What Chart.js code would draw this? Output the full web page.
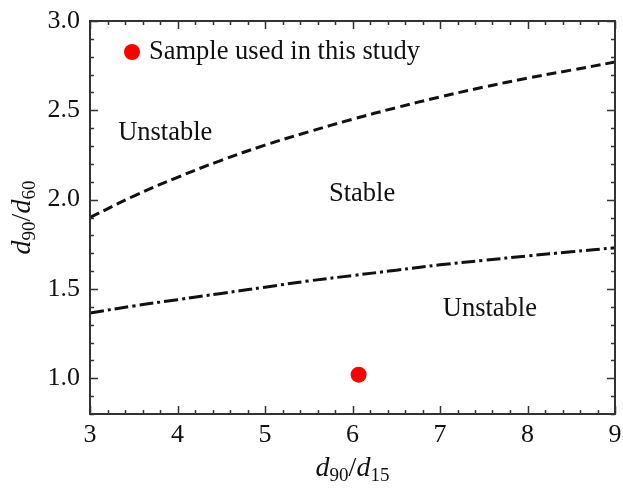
<!DOCTYPE html>
<html>
<head>
<meta charset="utf-8">
<script src="https://cdn.jsdelivr.net/npm/chart.js@4/dist/chart.umd.min.js"></script>
<style>
  html, body { margin: 0; padding: 0; background: #fff; }
  #wrap { width: 623px; height: 490px; }
</style>
</head>
<body>
<div id="wrap"><canvas id="stabilityChart" width="623" height="490"></canvas></div>
<script>
// Stability boundaries in the d90/d15 – d90/d60 plane
const ratioX = [3, 3.5, 4, 4.5, 5, 5.5, 6, 6.5, 7, 7.5, 8, 8.5, 9];
const upperBoundary = [1.90, 2.02, 2.125, 2.22, 2.305, 2.38, 2.45, 2.515, 2.575, 2.63, 2.68, 2.725, 2.77];
const lowerBoundary = [1.365, 1.405, 1.44, 1.475, 1.51, 1.545, 1.575, 1.605, 1.635, 1.66, 1.685, 1.708, 1.73];

// Sample used in this study
const sampleX = [6.07];
const sampleY = [1.02];

// Tick labels
const xTickValues = [3, 4, 5, 6, 7, 8, 9];
const yTickValues = [1.0, 1.5, 2.0, 2.5, 3.0];

// Region labels
const regionText = ['Unstable', 'Stable', 'Unstable'];
const regionX = [3.86, 6.11, 7.57];
const regionY = [2.37, 2.03, 1.39];

const serif = '"Liberation Serif", "Times New Roman", serif';
const ink = '#111';

function toPoints(xs, ys) {
    return xs.map((x, i) => ({ x: x, y: ys[i] }));
}

// Draws a math-style label like d90/d15 (italic d, subscripts)
function drawRatioLabel(ctx, a, b) {
    const parts = [
        { t: 'd', font: 'italic 28px ' + serif, dy: 0 },
        { t: a, font: '19px ' + serif, dy: 5 },
        { t: '/', font: '28px ' + serif, dy: 0 },
        { t: 'd', font: 'italic 28px ' + serif, dy: 0 },
        { t: b, font: '19px ' + serif, dy: 5 }
    ];
    let total = 0;
    parts.forEach(p => { ctx.font = p.font; p.w = ctx.measureText(p.t).width; total += p.w; });
    let x = -total / 2;
    ctx.textBaseline = 'alphabetic';
    ctx.textAlign = 'left';
    parts.forEach(p => {
        ctx.font = p.font;
        ctx.fillText(p.t, x, p.dy);
        x += p.w;
    });
}

const decorations = {
    id: 'decorations',
    afterDatasetsDraw(chart) {
        const ctx = chart.ctx;
        const area = chart.chartArea;
        const xs = chart.scales.x;
        const ys = chart.scales.y;
        ctx.save();
        ctx.fillStyle = ink;

        // region labels
        ctx.font = '26.5px ' + serif;
        ctx.textAlign = 'center';
        ctx.textBaseline = 'middle';
        regionText.forEach((t, i) => {
            ctx.fillText(t, xs.getPixelForValue(regionX[i]), ys.getPixelForValue(regionY[i]));
        });

        // legend
        const lx = area.left + 42, ly = area.top + 31;
        ctx.fillStyle = '#ff0000';
        ctx.beginPath();
        ctx.arc(lx, ly, 8, 0, Math.PI * 2);
        ctx.fill();
        ctx.fillStyle = ink;
        ctx.textAlign = 'left';
        ctx.fillText('Sample used in this study', lx + 17, ly);

        // frame and inward ticks on all four sides
        ctx.strokeStyle = '#333';
        ctx.lineWidth = 2;
        ctx.strokeRect(area.left, area.top, area.right - area.left, area.bottom - area.top);
        ctx.lineWidth = 1.5;
        ctx.beginPath();
        for (let i = 15; i <= 45; i++) {
            const px = Math.round(xs.getPixelForValue(i / 5)) + 0.5;
            const len = i % 5 === 0 ? 8 : 4;
            ctx.moveTo(px, area.bottom); ctx.lineTo(px, area.bottom - len);
            ctx.moveTo(px, area.top); ctx.lineTo(px, area.top + len);
        }
        for (let i = 8; i <= 30; i++) {
            const py = Math.round(ys.getPixelForValue(i / 10)) + 0.5;
            const len = i % 5 === 0 ? 8 : 4;
            ctx.moveTo(area.left, py); ctx.lineTo(area.left + len, py);
            ctx.moveTo(area.right, py); ctx.lineTo(area.right - len, py);
        }
        ctx.stroke();

        // axis titles
        ctx.fillStyle = ink;
        ctx.save();
        ctx.translate((area.left + area.right) / 2, 476);
        drawRatioLabel(ctx, '90', '15');
        ctx.restore();
        ctx.save();
        ctx.translate(30, (area.top + area.bottom) / 2);
        ctx.rotate(-Math.PI / 2);
        drawRatioLabel(ctx, '90', '60');
        ctx.restore();

        ctx.restore();
    }
};

new Chart(document.getElementById('stabilityChart'), {
    type: 'scatter',
    data: {
        datasets: [
            {
                data: toPoints(ratioX, upperBoundary),
                showLine: true,
                borderColor: ink,
                borderWidth: 3,
                borderDash: [10, 5],
                pointRadius: 0,
                tension: 0.4
            },
            {
                data: toPoints(ratioX, lowerBoundary),
                showLine: true,
                borderColor: ink,
                borderWidth: 3,
                borderDash: [14, 4, 3, 4],
                pointRadius: 0,
                tension: 0.4
            },
            {
                data: toPoints(sampleX, sampleY),
                backgroundColor: '#ff0000',
                borderWidth: 0,
                pointRadius: 8
            }
        ]
    },
    options: {
        responsive: false,
        animation: false,
        layout: { padding: { top: 21, right: 6, left: 0, bottom: 0 } },
        plugins: {
            legend: { display: false },
            tooltip: { enabled: false }
        },
        scales: {
            x: {
                type: 'linear',
                min: 3,
                max: 9,
                afterFit: s => { s.height = 76; s.paddingLeft = 0; s.paddingRight = 0; },
                afterBuildTicks: s => { s.ticks = xTickValues.map(v => ({ value: v })); },
                grid: { display: false, drawTicks: false },
                border: { display: false },
                ticks: {
                    padding: 6,
                    color: ink,
                    font: { family: serif, size: 26 },
                    callback: v => String(v)
                }
            },
            y: {
                type: 'linear',
                min: 0.8,
                max: 3.0,
                afterFit: s => { s.width = 90; s.paddingTop = 0; s.paddingBottom = 0; },
                afterBuildTicks: s => { s.ticks = yTickValues.map(v => ({ value: v })); },
                grid: { display: false, drawTicks: false },
                border: { display: false },
                ticks: {
                    padding: 10,
                    color: ink,
                    font: { family: serif, size: 26 },
                    callback: v => v.toFixed(1)
                }
            }
        }
    },
    plugins: [decorations]
});
</script>
</body>
</html>
